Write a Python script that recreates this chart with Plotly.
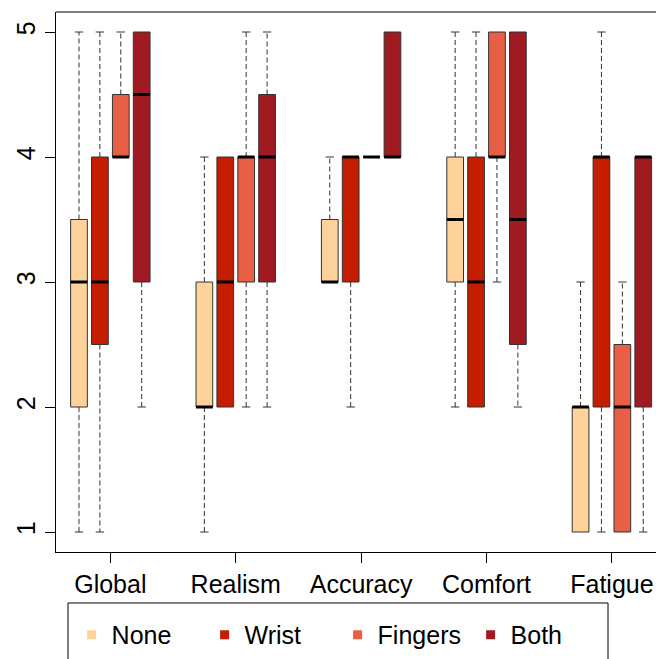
import plotly.graph_objects as go

categories = ["Global", "Realism", "Accuracy", "Comfort", "Fatigue"]
groups = ["None", "Wrist", "Fingers", "Both"]
colors = ["#FDD39B", "#C51D00", "#E85F46", "#A01A22"]

lower_whisker = {
    "None":    [1, 1, 3, 2, 1],
    "Wrist":   [1, 2, 2, 2, 1],
    "Fingers": [4, 2, 4, 3, 1],
    "Both":    [2, 2, 4, 2, 1],
}
q1 = {
    "None":    [2, 2, 3, 3, 1],
    "Wrist":   [2.5, 2, 3, 2, 2],
    "Fingers": [4, 3, 4, 4, 1],
    "Both":    [3, 3, 4, 2.5, 2],
}
median = {
    "None":    [3, 2, 3, 3.5, 2],
    "Wrist":   [3, 3, 4, 3, 4],
    "Fingers": [4, 4, 4, 4, 2],
    "Both":    [4.5, 4, 4, 3.5, 4],
}
q3 = {
    "None":    [3.5, 3, 3.5, 4, 2],
    "Wrist":   [4, 4, 4, 4, 4],
    "Fingers": [4.5, 4, 4, 5, 2.5],
    "Both":    [5, 4.5, 5, 5, 4],
}
upper_whisker = {
    "None":    [5, 4, 4, 5, 3],
    "Wrist":   [5, 4, 4, 5, 5],
    "Fingers": [5, 5, 4, 5, 3],
    "Both":    [5, 5, 5, 5, 4],
}
y_ticks = [1, 2, 3, 4, 5]

FONT = "Liberation Sans, Arial, Helvetica, sans-serif"
BOXW = 0.8
CAPW = 0.2
GROUP_STEP = 6

fig = go.Figure()

for j, g in enumerate(groups):
    xs = [gi * GROUP_STEP + j + 1 for gi in range(len(categories))]
    # boxes
    fig.add_trace(go.Bar(
        x=xs, base=q1[g], y=[b - a for a, b in zip(q1[g], q3[g])],
        width=BOXW, marker=dict(color=colors[j], line=dict(color="#333333", width=1)),
        showlegend=False, hoverinfo="skip"))
    # whiskers, caps, medians
    wx, wy, cx, cy, mx, my = [], [], [], [], [], []
    for i, x in enumerate(xs):
        if upper_whisker[g][i] > q3[g][i]:
            wx += [x, x, None]
            wy += [q3[g][i], upper_whisker[g][i], None]
            cx += [x - CAPW, x + CAPW, None]
            cy += [upper_whisker[g][i], upper_whisker[g][i], None]
        if lower_whisker[g][i] < q1[g][i]:
            wx += [x, x, None]
            wy += [q1[g][i], lower_whisker[g][i], None]
            cx += [x - CAPW, x + CAPW, None]
            cy += [lower_whisker[g][i], lower_whisker[g][i], None]
        mx += [x - BOXW / 2, x + BOXW / 2, None]
        my += [median[g][i], median[g][i], None]
    fig.add_trace(go.Scatter(x=wx, y=wy, mode="lines",
                             line=dict(color="#333333", width=1, dash="5px,3px"),
                             showlegend=False, hoverinfo="skip"))
    fig.add_trace(go.Scatter(x=cx, y=cy, mode="lines",
                             line=dict(color="#333333", width=1),
                             showlegend=False, hoverinfo="skip"))
    fig.add_trace(go.Scatter(x=mx, y=my, mode="lines",
                             line=dict(color="black", width=3),
                             showlegend=False, hoverinfo="skip"))
    # legend entry
    fig.add_trace(go.Scatter(x=[None], y=[None], mode="markers", name=g,
                             marker=dict(symbol="square", size=9, color=colors[j]),
                             showlegend=True))

group_centers = [gi * GROUP_STEP + 2.5 for gi in range(len(categories))]

fig.update_layout(
    width=656, height=659,
    margin=dict(l=56, r=0, t=12, b=107),
    plot_bgcolor="white", paper_bgcolor="white",
    barmode="overlay",
    font=dict(family=FONT, size=25, color="black"),
    xaxis=dict(range=[-0.1, 28.61], tickmode="array", tickvals=group_centers,
               ticktext=categories, showline=True, linecolor="black", linewidth=1,
               ticks="outside", ticklen=10, tickcolor="black", showgrid=False,
               zeroline=False, tickfont=dict(size=25)),
    yaxis=dict(range=[0.84, 5.16], tickmode="array", tickvals=y_ticks,
               ticktext=[str(v) for v in y_ticks], tickangle=-90,
               showline=True, linecolor="black", linewidth=1,
               ticks="outside", ticklen=10, tickcolor="black", showgrid=False,
               zeroline=False, tickfont=dict(size=25)),
    showlegend=True,
    legend=dict(orientation="h", x=0.026, xanchor="left", y=-0.111, yanchor="top",
                entrywidth=88, entrywidthmode="pixels",
                font=dict(size=25), bgcolor="rgba(0,0,0,0)", borderwidth=0),
    shapes=[
        dict(type="line", xref="paper", yref="paper", x0=0, x1=1, y0=1, y1=1,
             line=dict(color="black", width=1)),
        dict(type="rect", xref="paper", yref="paper", x0=0.02, x1=0.92,
             y0=-0.0944, y1=-0.3, line=dict(color="black", width=1)),
    ],
)

fig.write_html(
    "out.html",
    config={"displayModeBar": False},
    post_script="document.body.style.margin='0';document.body.style.overflow='hidden';",
)
